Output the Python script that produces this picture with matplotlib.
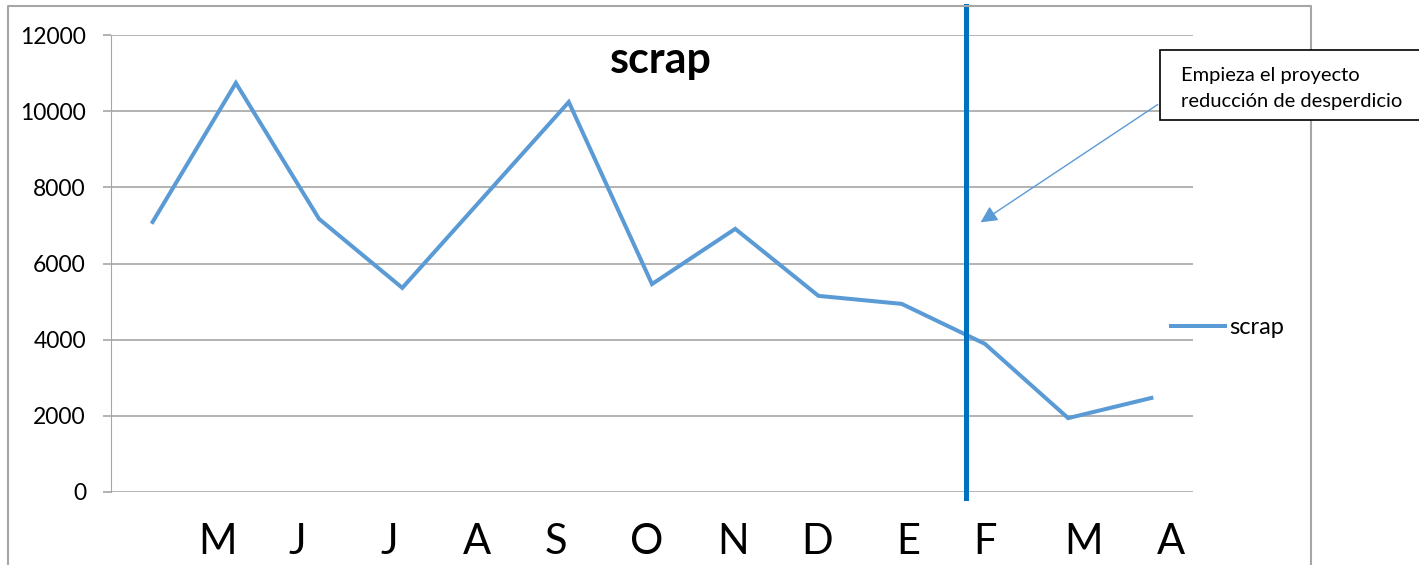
import matplotlib.pyplot as plt
from matplotlib.patches import Rectangle
from matplotlib.lines import Line2D

plt.rcParams['font.family'] = ['Lato', 'DejaVu Sans']

# monthly scrap, April to April
scrap = [7090, 10740, 7170, 5360, 7800, 10240, 5460, 6910, 5150, 4940, 3890, 1940, 2470]
month_labels = ['M', 'J', 'J', 'A', 'S', 'O', 'N', 'D', 'E', 'F', 'M', 'A']
label_pos = [0.78, 1.74, 2.84, 3.90, 4.85, 5.94, 6.97, 7.98, 9.08, 10.0, 11.18, 12.24]
project_start = 9.77

fig = plt.figure(figsize=(14.19, 5.65), dpi=100)
ax = fig.add_axes([111/1419, 73/565, 1082/1419, 457/565])

ax.plot(range(len(scrap)), scrap, color='#5B9BD5', lw=2.9, label='scrap',
        solid_joinstyle='miter', zorder=3)
ax.axvline(project_start, ymin=-0.013, ymax=1.063, color='#0070C0', lw=3.6,
           clip_on=False, zorder=4)

ax.set_xlim(-0.5, 12.5)
ax.set_ylim(0, 12000)
ax.set_yticks(range(0, 12001, 2000))
ax.yaxis.grid(True, color='#A6A6A6', lw=1.2)
ax.set_axisbelow(True)
for s in ['top', 'right', 'bottom']:
    ax.spines[s].set_visible(False)
ax.spines['left'].set_color('#A6A6A6')
ax.tick_params(axis='y', length=6, color='#A6A6A6', width=1.2, labelsize=16.5, pad=12)
ax.set_xticks(label_pos, month_labels)
ax.tick_params(axis='x', length=0, labelsize=30, pad=22)

ax.text(0.508, 0.99, 'scrap', transform=ax.transAxes, ha='center', va='top',
        fontsize=31, fontweight='bold')

ax.legend(loc='center left', bbox_to_anchor=(0.96, 0.36), frameon=False,
          fontsize=17, handlelength=2.3, handletextpad=0.15)

# outer chart frame
fig.add_artist(Line2D([8/1419, 8/1419, 1311/1419, 1311/1419],
                      [-0.05, 1 - 6/565, 1 - 6/565, -0.05],
                      color='#A6A6A6', lw=1.5))

# callout box with arrow to the start line
fig.add_artist(Rectangle((1160/1419, 1 - 120/565), 300/1419, 70/565,
                         facecolor='white', edgecolor='black', lw=1.2, zorder=5))
fig.text(1181/1419, 1 - 75/565, 'Empieza el proyecto', fontsize=14.5,
         va='center', zorder=6)
fig.text(1181/1419, 1 - 102/565, 'reducción de desperdicio', fontsize=14.5,
         va='center', zorder=6)
ax.annotate('', xy=(9.92, 7040), xytext=(1160, 565 - 103),
            textcoords='figure pixels',
            arrowprops=dict(arrowstyle='-|>', color='#5B9BD5', lw=1.0,
                            mutation_scale=25), annotation_clip=False)

fig.savefig('out.png', dpi=100)
